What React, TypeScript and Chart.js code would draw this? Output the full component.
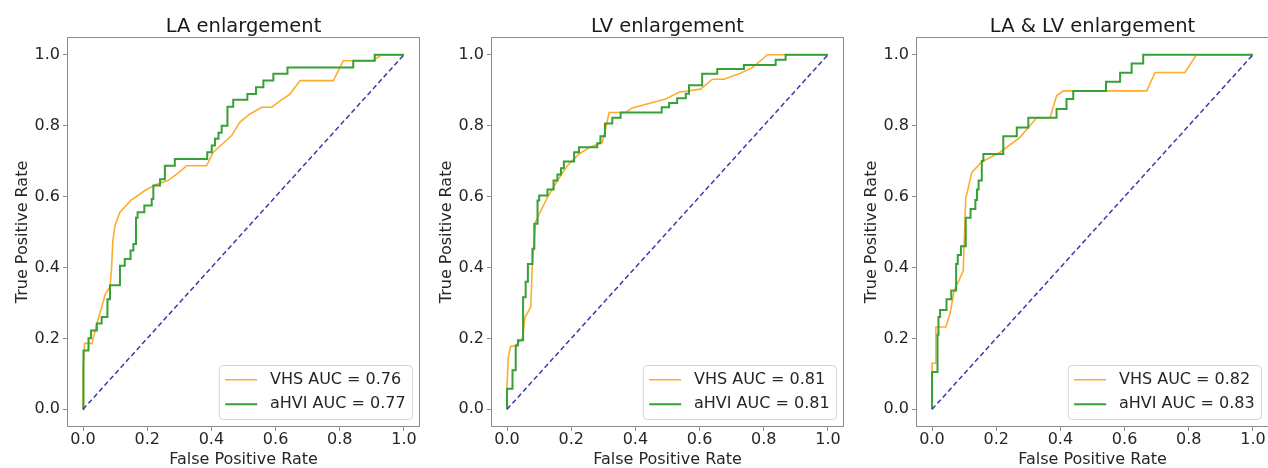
import React, { useEffect, useRef } from 'react';
import { Chart, registerables } from 'chart.js';
Chart.register(...registerables);

// ---------- data ----------
const tickValues = [0, 0.2, 0.4, 0.6, 0.8, 1.0];
const tickLabels = ['0.0', '0.2', '0.4', '0.6', '0.8', '1.0'];
const panelTitles = ['LA enlargement', 'LV enlargement', 'LA & LV enlargement'];
const seriesNames = ['VHS', 'aHVI'];
const aucVHS = [0.76, 0.81, 0.82];
const aucAHVI = [0.77, 0.81, 0.83];
const chanceFpr = [0, 1];
const chanceTpr = [0, 1];

// LA enlargement
const laVhsFpr = [0, 0, 0.005, 0.028, 0.043, 0.058, 0.07, 0.084, 0.089, 0.093, 0.1, 0.115, 0.15, 0.193, 0.229, 0.265, 0.297, 0.323, 0.385, 0.406, 0.463, 0.489, 0.52, 0.557, 0.588, 0.614, 0.645, 0.676, 0.78, 0.811, 0.904, 0.93, 1.0];
const laVhsTpr = [0, 0.11, 0.186, 0.186, 0.242, 0.288, 0.326, 0.345, 0.4, 0.477, 0.52, 0.556, 0.59, 0.617, 0.635, 0.645, 0.667, 0.687, 0.687, 0.725, 0.772, 0.81, 0.833, 0.852, 0.852, 0.87, 0.889, 0.927, 0.927, 0.983, 0.983, 1.0, 1.0];
const laHviFpr = [0, 0, 0.002, 0.002, 0.017, 0.017, 0.025, 0.025, 0.043, 0.043, 0.058, 0.058, 0.076, 0.076, 0.084, 0.084, 0.115, 0.115, 0.13, 0.13, 0.148, 0.148, 0.157, 0.157, 0.165, 0.165, 0.17, 0.17, 0.191, 0.191, 0.214, 0.214, 0.219, 0.219, 0.24, 0.24, 0.255, 0.255, 0.286, 0.286, 0.387, 0.387, 0.401, 0.401, 0.411, 0.411, 0.422, 0.422, 0.432, 0.432, 0.45, 0.45, 0.468, 0.468, 0.512, 0.512, 0.539, 0.539, 0.562, 0.562, 0.593, 0.593, 0.637, 0.637, 0.842, 0.842, 0.909, 0.909, 1.0];
const laHviTpr = [0, 0.072, 0.072, 0.166, 0.166, 0.2, 0.2, 0.222, 0.222, 0.242, 0.242, 0.26, 0.26, 0.31, 0.31, 0.35, 0.35, 0.405, 0.405, 0.424, 0.424, 0.448, 0.448, 0.466, 0.466, 0.54, 0.54, 0.556, 0.556, 0.575, 0.575, 0.593, 0.593, 0.631, 0.631, 0.649, 0.649, 0.687, 0.687, 0.706, 0.706, 0.725, 0.725, 0.744, 0.744, 0.763, 0.763, 0.78, 0.78, 0.8, 0.8, 0.853, 0.853, 0.873, 0.873, 0.889, 0.889, 0.908, 0.908, 0.927, 0.927, 0.946, 0.946, 0.964, 0.964, 0.983, 0.983, 1.0, 1.0];

// LV enlargement
const lvVhsFpr = [0, 0, 0.004, 0.011, 0.027, 0.048, 0.056, 0.074, 0.079, 0.089, 0.1, 0.126, 0.157, 0.188, 0.224, 0.26, 0.297, 0.307, 0.318, 0.37, 0.39, 0.494, 0.536, 0.603, 0.64, 0.676, 0.723, 0.765, 0.811, 1.0];
const lvVhsTpr = [0, 0.065, 0.147, 0.177, 0.18, 0.2, 0.26, 0.288, 0.41, 0.528, 0.55, 0.598, 0.645, 0.687, 0.72, 0.74, 0.753, 0.79, 0.837, 0.837, 0.85, 0.875, 0.894, 0.903, 0.931, 0.931, 0.946, 0.964, 1.0, 1.0];
const lvHviFpr = [0, 0, 0.017, 0.017, 0.027, 0.027, 0.034, 0.034, 0.05, 0.05, 0.058, 0.058, 0.065, 0.065, 0.079, 0.079, 0.085, 0.085, 0.095, 0.095, 0.1, 0.1, 0.126, 0.126, 0.145, 0.145, 0.157, 0.157, 0.168, 0.168, 0.177, 0.177, 0.209, 0.209, 0.224, 0.224, 0.281, 0.281, 0.291, 0.291, 0.305, 0.305, 0.328, 0.328, 0.354, 0.354, 0.482, 0.482, 0.505, 0.505, 0.53, 0.53, 0.557, 0.557, 0.567, 0.567, 0.608, 0.608, 0.655, 0.655, 0.738, 0.738, 0.837, 0.837, 0.868, 0.868, 1.0];
const lvHviTpr = [0, 0.058, 0.058, 0.11, 0.11, 0.18, 0.18, 0.195, 0.195, 0.316, 0.316, 0.36, 0.36, 0.41, 0.41, 0.453, 0.453, 0.523, 0.523, 0.589, 0.589, 0.603, 0.603, 0.62, 0.62, 0.645, 0.645, 0.662, 0.662, 0.68, 0.68, 0.699, 0.699, 0.725, 0.725, 0.739, 0.739, 0.75, 0.75, 0.77, 0.77, 0.806, 0.806, 0.822, 0.822, 0.837, 0.837, 0.852, 0.852, 0.864, 0.864, 0.877, 0.877, 0.89, 0.89, 0.914, 0.914, 0.946, 0.946, 0.96, 0.96, 0.971, 0.971, 0.986, 0.986, 1.0, 1.0];

// LA & LV enlargement
const bothVhsFpr = [0, 0, 0.012, 0.012, 0.043, 0.056, 0.069, 0.082, 0.097, 0.105, 0.124, 0.155, 0.212, 0.274, 0.326, 0.368, 0.388, 0.409, 0.669, 0.695, 0.788, 0.824, 1.0];
const bothVhsTpr = [0, 0.13, 0.13, 0.232, 0.232, 0.27, 0.335, 0.36, 0.39, 0.594, 0.668, 0.698, 0.725, 0.767, 0.822, 0.823, 0.884, 0.898, 0.898, 0.95, 0.95, 1.0, 1.0];
const bothHviFpr = [0, 0, 0.017, 0.017, 0.02, 0.02, 0.025, 0.025, 0.045, 0.045, 0.06, 0.06, 0.075, 0.075, 0.08, 0.08, 0.09, 0.09, 0.105, 0.105, 0.12, 0.12, 0.135, 0.135, 0.14, 0.14, 0.145, 0.145, 0.155, 0.155, 0.16, 0.16, 0.222, 0.222, 0.264, 0.264, 0.3, 0.3, 0.388, 0.388, 0.419, 0.419, 0.44, 0.44, 0.542, 0.542, 0.586, 0.586, 0.622, 0.622, 0.658, 0.658, 1.0];
const bothHviTpr = [0, 0.105, 0.105, 0.21, 0.21, 0.26, 0.26, 0.28, 0.28, 0.31, 0.31, 0.335, 0.335, 0.41, 0.41, 0.435, 0.435, 0.46, 0.46, 0.54, 0.54, 0.565, 0.565, 0.59, 0.59, 0.62, 0.62, 0.645, 0.645, 0.7, 0.7, 0.72, 0.72, 0.77, 0.77, 0.795, 0.795, 0.822, 0.822, 0.847, 0.847, 0.875, 0.875, 0.898, 0.898, 0.924, 0.924, 0.949, 0.949, 0.975, 0.975, 1.0, 1.0];

const vhsFprs = [laVhsFpr, lvVhsFpr, bothVhsFpr];
const vhsTprs = [laVhsTpr, lvVhsTpr, bothVhsTpr];
const hviFprs = [laHviFpr, lvHviFpr, bothHviFpr];
const hviTprs = [laHviTpr, lvHviTpr, bothHviTpr];

// ---------- styling ----------
const FONT = '"DejaVu Sans", "Liberation Sans", sans-serif';
const TEXT = '#262626';
const FRAME = '#8c8c8c';
const ORANGE = '#ffac2e';
const GREEN = '#37a037';
const NAVY = '#3a3aa6';
const CANVAS_W = 424;
const CANVAS_H = 468;
const PANEL_LEFT = [0, 424, 849];

const zip = (xs: number[], ys: number[]) => xs.map((x, k) => ({ x, y: ys[k] }));

const framePlugin = {
  id: 'frame',
  afterDatasetsDraw(chart: any) {
    const { ctx, chartArea: a } = chart;
    ctx.save();
    ctx.strokeStyle = FRAME;
    ctx.lineWidth = 1;
    ctx.strokeRect(Math.round(a.left) + 0.5, Math.round(a.top) + 0.5, Math.round(a.right - a.left) - 1, Math.round(a.bottom - a.top) - 1);
    ctx.restore();
  },
};

const titlePlugin = {
  id: 'panelTitle',
  afterDraw(chart: any, _args: any, opts: any) {
    const { ctx, chartArea: a } = chart;
    ctx.save();
    ctx.font = `19.5px ${FONT}`;
    ctx.fillStyle = '#1a1a1a';
    ctx.textAlign = 'center';
    ctx.textBaseline = 'alphabetic';
    ctx.fillText(opts.text, (a.left + a.right) / 2, 31.5);
    ctx.restore();
  },
};

const legendPlugin = {
  id: 'roundLegend',
  afterDraw(chart: any) {
    const { ctx, chartArea: a } = chart;
    const items = chart.data.datasets.filter((d: any) => !d.hideInLegend);
    const fs = 16;
    ctx.save();
    ctx.font = `${fs}px ${FONT}`;
    const textW = Math.max(...items.map((d: any) => ctx.measureText(d.label).width));
    const pad = 0.4 * fs;
    const handle = 2 * fs;
    const gap = 0.8 * fs;
    const rowH = 16.6;
    const spacing = 0.5 * fs;
    const w = pad + handle + gap + textW + pad;
    const h = pad * 2 + rowH * items.length + spacing * (items.length - 1);
    const right = a.right - 8;
    const bottom = a.bottom - 8;
    const x0 = right - w;
    const y0 = bottom - h;
    ctx.beginPath();
    if ((ctx as any).roundRect) (ctx as any).roundRect(x0 + 0.5, y0 + 0.5, w, h, 4);
    else ctx.rect(x0 + 0.5, y0 + 0.5, w, h);
    ctx.fillStyle = 'rgba(255,255,255,0.85)';
    ctx.fill();
    ctx.strokeStyle = '#d4d4d4';
    ctx.lineWidth = 1;
    ctx.stroke();
    items.forEach((d: any, k: number) => {
      const cy = y0 + pad + rowH / 2 + k * (rowH + spacing);
      ctx.beginPath();
      ctx.strokeStyle = d.borderColor;
      ctx.lineWidth = d.borderWidth;
      ctx.moveTo(x0 + pad, cy);
      ctx.lineTo(x0 + pad + handle, cy);
      ctx.stroke();
      ctx.fillStyle = TEXT;
      ctx.textAlign = 'left';
      ctx.textBaseline = 'middle';
      ctx.fillText(d.label, x0 + pad + handle + gap, cy);
    });
    ctx.restore();
  },
};

function Panel({ index }: { index: number }) {
  const ref = useRef<HTMLCanvasElement | null>(null);
  useEffect(() => {
    if (!ref.current) return;
    const setTicks = (scale: any) => {
      scale.ticks = tickValues.map((v) => ({ value: v }));
    };
    const tickCb = (_v: any, i: number) => tickLabels[i];
    const chart = new Chart(ref.current, {
      type: 'line',
      data: {
        datasets: [
          {
            label: `${seriesNames[0]} AUC = ${aucVHS[index].toFixed(2)}`,
            data: zip(vhsFprs[index], vhsTprs[index]),
            borderColor: ORANGE,
            borderWidth: 1.6,
            pointRadius: 0,
            tension: 0,
            fill: false,
            order: 2,
          },
          {
            label: `${seriesNames[1]} AUC = ${aucAHVI[index].toFixed(2)}`,
            data: zip(hviFprs[index], hviTprs[index]),
            borderColor: GREEN,
            borderWidth: 2,
            pointRadius: 0,
            tension: 0,
            fill: false,
            order: 1,
          },
          {
            label: 'chance',
            hideInLegend: true,
            data: zip(chanceFpr, chanceTpr),
            borderColor: NAVY,
            borderWidth: 1.5,
            borderDash: [5, 3],
            pointRadius: 0,
            fill: false,
            order: 0,
          } as any,
        ],
      },
      options: {
        responsive: false,
        animation: false,
        events: [],
        layout: { padding: { top: 37, right: 4, left: 0, bottom: 0 } },
        plugins: {
          legend: { display: false },
          tooltip: { enabled: false },
          title: { display: false },
          panelTitle: { text: panelTitles[index] },
        } as any,
        scales: {
          x: {
            type: 'linear',
            min: -0.05,
            max: 1.05,
            afterBuildTicks: setTicks,
            afterFit: (s: any) => { s.height = 41; },
            grid: { drawOnChartArea: false, drawTicks: true, tickLength: 4, color: FRAME, tickColor: FRAME },
            border: { display: false },
            ticks: { callback: tickCb, autoSkip: false, maxRotation: 0, padding: 1, color: TEXT, font: { family: FONT, size: 16, lineHeight: 1 } },
            title: { display: true, text: 'False Positive Rate', color: TEXT, font: { family: FONT, size: 16, lineHeight: 1 }, padding: { top: 0, bottom: 0.5 } },
          },
          y: {
            type: 'linear',
            min: -0.05,
            max: 1.05,
            afterBuildTicks: setTicks,
            afterFit: (s: any) => { s.width = 67; },
            grid: { drawOnChartArea: false, drawTicks: true, tickLength: 4, color: FRAME, tickColor: FRAME },
            border: { display: false },
            ticks: { callback: tickCb, autoSkip: false, padding: 3, color: TEXT, font: { family: FONT, size: 16, lineHeight: 1 } },
            title: { display: true, text: 'True Positive Rate', color: TEXT, font: { family: FONT, size: 16, lineHeight: 1 }, padding: { top: 14.8, bottom: 0 } },
          },
        } as any,
      },
      plugins: [framePlugin, titlePlugin, legendPlugin],
    });
    return () => chart.destroy();
  }, [index]);
  return (
    <canvas
      ref={ref}
      width={CANVAS_W}
      height={CANVAS_H}
      style={{ position: 'absolute', left: PANEL_LEFT[index], top: 0, width: CANVAS_W, height: CANVAS_H }}
    />
  );
}

export default function App() {
  return (
    <div style={{ position: 'fixed', left: 0, top: 0, width: 1268, height: 468, overflow: 'hidden', background: '#fff' }}>
      {[0, 1, 2].map((i) => (
        <Panel key={i} index={i} />
      ))}
    </div>
  );
}
